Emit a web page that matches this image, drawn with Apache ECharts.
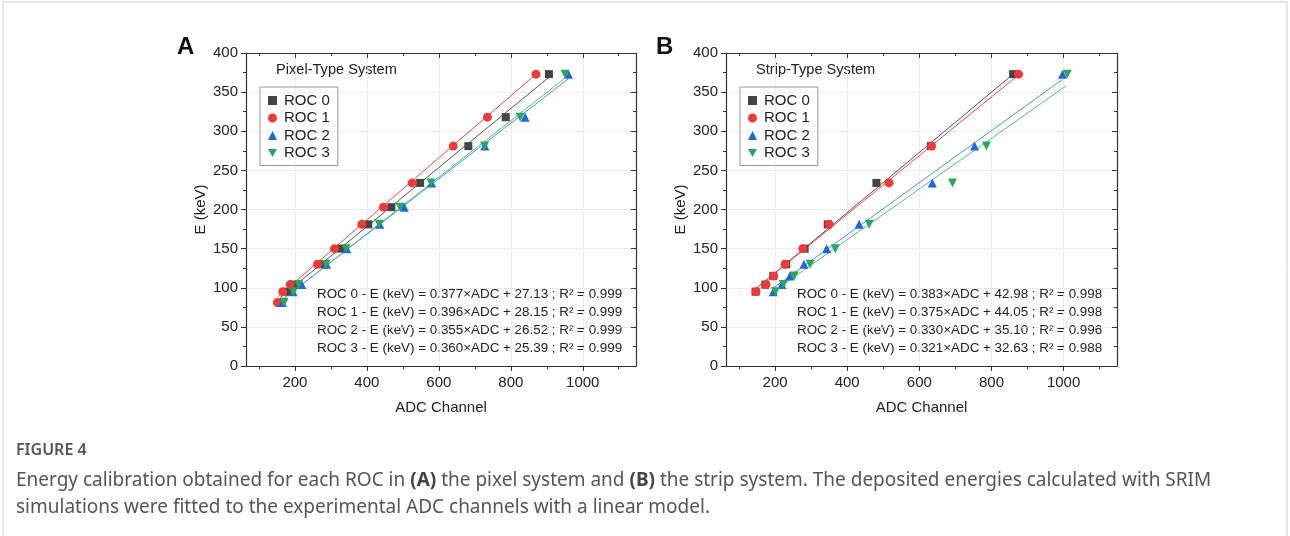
<!DOCTYPE html>
<html>
<head>
<meta charset="utf-8">
<script src="https://cdn.jsdelivr.net/npm/echarts@6/dist/echarts.min.js"></script>
<style>
  html, body { margin: 0; padding: 0; background: #fff; }
  #chart { width: 1290px; height: 536px; }
</style>
</head>
<body>
<div id="chart"></div>
<script>
// 坐标轴范围与刻度
var xMin = 64, xMax = 1148;
var xMajor = [200, 400, 600, 800, 1000];
var xMinor = [100, 300, 500, 700, 900, 1100];
var yMin = 0, yMax = 400;

var rocNames = ['ROC 0', 'ROC 1', 'ROC 2', 'ROC 3'];

// A: Pixel-Type System 的沉积能量与ADC道址
var pixelE = [81, 95, 104, 130, 150, 181, 203, 234, 281, 318, 373];
var pixelAdc0 = [160, 180, 200, 279, 328, 404, 468, 548, 682, 786, 906];
var pixelAdc1 = [151, 166, 187, 263, 310, 386, 446, 526, 640, 735, 870];
var pixelAdc2 = [165, 195, 219, 288, 344, 436, 504, 580, 728, 840, 960];
var pixelAdc3 = [170, 196, 210, 286, 342, 434, 492, 578, 727, 826, 951];

// B: Strip-Type System
var stripE = [95, 104, 115, 130, 150, 181, 234, 281, 373];
var stripAdc0 = [146, 173, 195, 231, 282, 346, 481, 632, 860];
var stripAdc1 = [147, 175, 196, 228, 277, 350, 516, 634, 875];
var stripAdc2 = [195, 219, 241, 280, 343, 433, 636, 753, 997];
var stripAdc3 = [201, 223, 253, 297, 367, 461, 692, 786, 1010];

// 拟合直线端点 [x, E]
var pixelFit0 = [[158, 87], [906, 369]];
var pixelFit1 = [[151, 88], [870, 373]];
var pixelFit2 = [[165, 85], [960, 367]];
var pixelFit3 = [[167, 85], [951, 368]];
var stripFit0 = [[145, 98], [860, 373]];
var stripFit1 = [[147, 99], [875, 372]];
var stripFit2 = [[193, 99], [996, 366]];
var stripFit3 = [[198, 96], [1007, 358]];

// 拟合公式文字
var pixelEq = [
  'ROC 0 - E (keV) = 0.377×ADC + 27.13 ; R² = 0.999',
  'ROC 1 - E (keV) = 0.396×ADC + 28.15 ; R² = 0.999',
  'ROC 2 - E (keV) = 0.355×ADC + 26.52 ; R² = 0.999',
  'ROC 3 - E (keV) = 0.360×ADC + 25.39 ; R² = 0.999'
];
var stripEq = [
  'ROC 0 - E (keV) = 0.383×ADC + 42.98 ; R² = 0.998',
  'ROC 1 - E (keV) = 0.375×ADC + 44.05 ; R² = 0.998',
  'ROC 2 - E (keV) = 0.330×ADC + 35.10 ; R² = 0.996',
  'ROC 3 - E (keV) = 0.321×ADC + 32.63 ; R² = 0.988'
];

var pointColors = ['#444444', '#f03a3a', '#1f66d8', '#2aa75e'];
var lineColors = ['#555555', '#f04848', '#4a90e8', '#55bf80'];
var symbols = ['rect', 'circle', 'triangle', 'path://M0,0L10,0L5,9Z'];
var symbolSizes = [8, 9, 9, 9];

var axisColor = '#333';
var labelColor = '#222';
var font = 'Arial';
var capFont = 'Noto Sans';

var myChart = echarts.init(document.getElementById('chart'));

function pairs(xs, ys) {
  var out = [];
  for (var i = 0; i < xs.length; i++) out.push([xs[i], ys[i]]);
  return out;
}

// 每个面板的x轴：底部主/次刻度，顶部主/次刻度（朝内）
function makeXAxes(g) {
  var base = { gridIndex: g, type: 'value', min: xMin, max: xMax };
  return [
    Object.assign({}, base, {
      position: 'bottom',
      name: 'ADC Channel', nameLocation: 'middle', nameGap: 34,
      nameTextStyle: { fontSize: 15, color: labelColor, fontFamily: font },
      axisLine: { lineStyle: { color: axisColor, width: 1.2 } },
      axisTick: { customValues: xMajor, length: 5, lineStyle: { color: axisColor } },
      axisLabel: { customValues: xMajor, fontSize: 15, color: labelColor, fontFamily: font, margin: 9,
                   formatter: function (v) { return String(v); } },
      splitLine: { show: true, lineStyle: { color: '#dcdcdc', type: 'dotted' } }
    }),
    Object.assign({}, base, {
      position: 'bottom',
      axisLine: { show: false },
      axisTick: { customValues: xMinor, length: 3, lineStyle: { color: axisColor } },
      axisLabel: { show: false }, splitLine: { show: false }
    }),
    Object.assign({}, base, {
      position: 'top',
      axisLine: { lineStyle: { color: axisColor, width: 1.2 } },
      axisTick: { customValues: xMajor, inside: true, length: 5, lineStyle: { color: axisColor } },
      axisLabel: { show: false }, splitLine: { show: false }
    }),
    Object.assign({}, base, {
      position: 'top',
      axisLine: { show: false },
      axisTick: { customValues: xMinor, inside: true, length: 3, lineStyle: { color: axisColor } },
      axisLabel: { show: false }, splitLine: { show: false }
    })
  ];
}

function makeYAxes(g) {
  var base = { gridIndex: g, type: 'value', min: yMin, max: yMax, interval: 50 };
  return [
    Object.assign({}, base, {
      position: 'left',
      name: 'E (keV)', nameLocation: 'middle', nameGap: 38, nameRotate: 90,
      nameTextStyle: { fontSize: 15, color: labelColor, fontFamily: font },
      axisLine: { show: true, lineStyle: { color: axisColor, width: 1.2 } },
      axisTick: { show: true, length: 5, lineStyle: { color: axisColor } },
      minorTick: { show: true, splitNumber: 2, length: 3, lineStyle: { color: axisColor } },
      axisLabel: { fontSize: 15, color: labelColor, fontFamily: font, margin: 8 },
      splitLine: { show: true, lineStyle: { color: '#dcdcdc', type: 'dotted' } }
    }),
    Object.assign({}, base, {
      position: 'right',
      axisLine: { show: true, lineStyle: { color: axisColor, width: 1.2 } },
      axisTick: { show: true, inside: true, length: 5, lineStyle: { color: axisColor } },
      minorTick: { show: true, splitNumber: 2, length: 3, lineStyle: { color: axisColor } },
      axisLabel: { show: false }, splitLine: { show: false }
    })
  ];
}

function makeSeries(g, xs, ys, fits) {
  var list = [];
  for (var i = 0; i < 4; i++) {
    list.push({
      name: 'fit' + g + '_' + i, type: 'line',
      xAxisIndex: g * 4, yAxisIndex: g * 2,
      data: fits[i], showSymbol: false, silent: true,
      lineStyle: { color: lineColors[i], width: 1 }, z: 2
    });
  }
  for (var j = 0; j < 4; j++) {
    list.push({
      name: rocNames[j], type: 'scatter',
      xAxisIndex: g * 4, yAxisIndex: g * 2,
      data: pairs(xs[j], ys),
      symbol: symbols[j], symbolSize: symbolSizes[j],
      itemStyle: { color: pointColors[j], opacity: 1 }, z: 3
    });
  }
  return list;
}

function makeLegend(left) {
  return {
    data: rocNames.map(function (n, i) { return { name: n, icon: symbols[i] }; }),
    orient: 'vertical', left: left, top: 87,
    padding: [6, 8, 5, 8], itemGap: 2.5, itemWidth: 9, itemHeight: 9,
    borderColor: '#999', borderWidth: 1, borderRadius: 0,
    selectedMode: false,
    textStyle: { fontSize: 15, color: labelColor, fontFamily: font, padding: [0, 0, 0, 2] }
  };
}

function eqTexts(left, lines) {
  return lines.map(function (t, i) {
    return {
      type: 'text', left: left, top: 288 + i * 18,
      style: { text: t, fontSize: 13.4, fill: labelColor, fontFamily: font }
    };
  });
}

var option = {
  backgroundColor: '#fff',
  animation: false,
  grid: [
    { left: 246, top: 53, width: 390, height: 313 },
    { left: 726, top: 53, width: 391, height: 313 }
  ],
  xAxis: makeXAxes(0).concat(makeXAxes(1)),
  yAxis: makeYAxes(0).concat(makeYAxes(1)),
  legend: [makeLegend(260), makeLegend(740)],
  series: makeSeries(0, [pixelAdc0, pixelAdc1, pixelAdc2, pixelAdc3], pixelE,
                     [pixelFit0, pixelFit1, pixelFit2, pixelFit3])
    .concat(makeSeries(1, [stripAdc0, stripAdc1, stripAdc2, stripAdc3], stripE,
                       [stripFit0, stripFit1, stripFit2, stripFit3])),
  graphic: [
    { type: 'rect', shape: { x: 3, y: 2, width: 1284, height: 560 },
      style: { fill: 'none', stroke: '#cfcfcf', lineWidth: 1 }, silent: true },
    { type: 'text', left: 177, top: 35,
      style: { text: 'A', fontSize: 24, fontWeight: 'bold', fill: '#111', fontFamily: font } },
    { type: 'text', left: 656, top: 35,
      style: { text: 'B', fontSize: 24, fontWeight: 'bold', fill: '#111', fontFamily: font } },
    { type: 'text', left: 276, top: 62,
      style: { text: 'Pixel-Type System', fontSize: 14.6, fill: labelColor, fontFamily: font } },
    { type: 'text', left: 756, top: 62,
      style: { text: 'Strip-Type System', fontSize: 14.6, fill: labelColor, fontFamily: font } },
    { type: 'text', left: 16, top: 442,
      style: { text: 'FIGURE 4', fontSize: 16, fontWeight: 600, fill: '#555', fontFamily: capFont } },
    { type: 'text', left: 16, top: 467,
      style: {
        text: 'Energy calibration obtained for each ROC in {b|(A)} the pixel system and {b|(B)} the strip system. The deposited energies calculated with SRIM\nsimulations were fitted to the experimental ADC channels with a linear model.',
        fontSize: 19, lineHeight: 27, fill: '#555', fontFamily: capFont,
        rich: { b: { fontWeight: 'bold', fontSize: 19, fill: '#444', fontFamily: capFont } }
      } }
  ].concat(eqTexts(317, pixelEq)).concat(eqTexts(797, stripEq))
};

myChart.setOption(option);
</script>
</body>
</html>
